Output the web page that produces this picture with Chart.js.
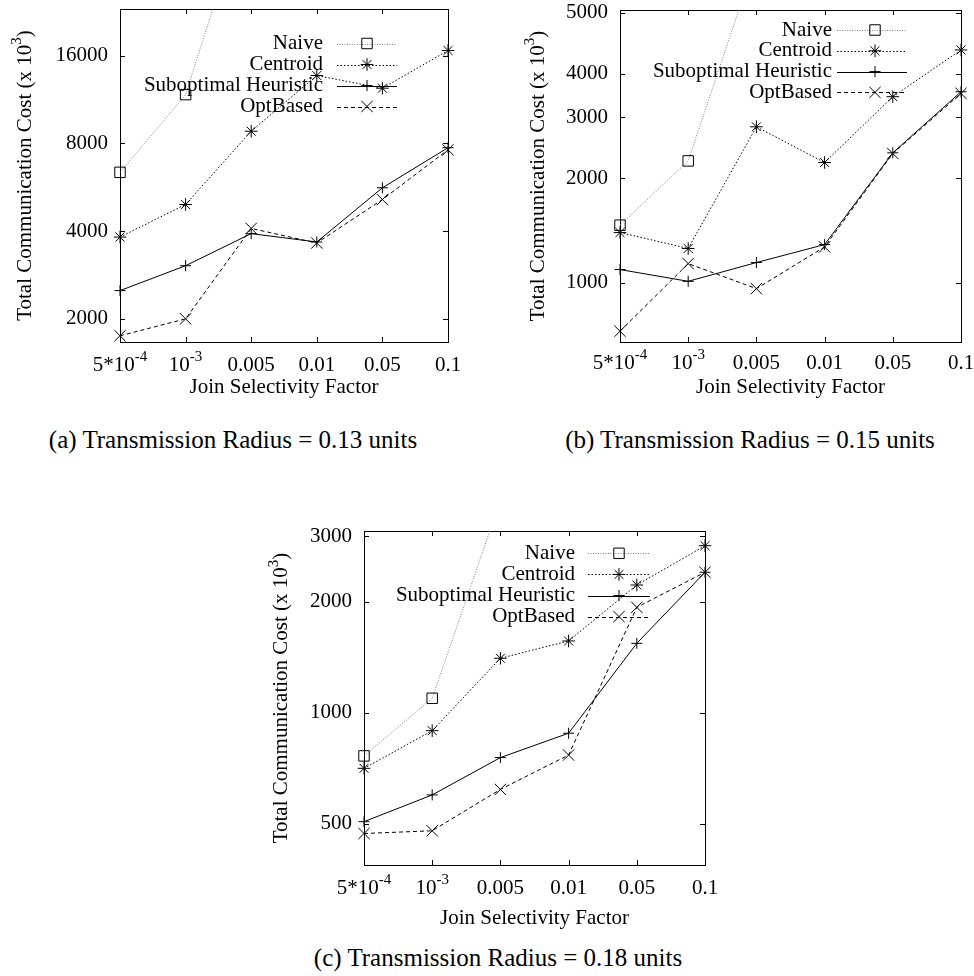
<!DOCTYPE html>
<html>
<head>
<meta charset="utf-8">
<script src="https://cdn.jsdelivr.net/npm/chart.js@4.4.1/dist/chart.umd.min.js"></script>
<style>
	body { margin: 0; background: #fff; width: 974px; height: 976px; position: relative; overflow: hidden; font-family: 'Liberation Serif', 'Times New Roman', serif; }
	canvas { position: absolute; }
	.cap { position: absolute; font-size: 25px; white-space: nowrap; transform: translate(-50%, -50%); color: #000; }
</style>
</head>
<body>
<canvas id="chartA" width="487" height="400" style="left:0px;top:0px"></canvas>
<canvas id="chartB" width="487" height="400" style="left:487px;top:0px"></canvas>
<canvas id="chartC" width="500" height="410" style="left:240px;top:520px"></canvas>
<div class="cap" style="left:233px;top:440px">(a) Transmission Radius = 0.13 units</div>
<div class="cap" style="left:750px;top:440px">(b) Transmission Radius = 0.15 units</div>
<div class="cap" style="left:498px;top:958px">(c) Transmission Radius = 0.18 units</div>
<script>
// categories / tick labels
var categories = ['5*10^-4', '10^-3', '0.005', '0.01', '0.05', '0.1'];
var tickBase = ['5*10', '10', '0.005', '0.01', '0.05', '0.1'];
var tickSup = ['-4', '-3', '', '', '', ''];
var seriesNames = ['Naive', 'Centroid', 'Suboptimal Heuristic', 'OptBased'];

// (a) radius 0.13
var naiveA = [6360, 11750, 60000, null, null, null];
var centroidA = [3815, 4935, 8800, 13660, 12360, 16640];
var suboptA = [2500, 3043, 3920, 3670, 5630, 7725];
var optA = [1750, 2000, 4085, 3640, 5130, 7600];
var yTicksA = [2000, 4000, 8000, 16000];
var yLabelsA = ['2000', '4000', '8000', '16000'];

// (b) radius 0.15
var naiveB = [1467, 2247, 8650, null, null, null];
var centroidB = [1397, 1257, 2817, 2223, 3440, 4690];
var suboptB = [1093, 1011, 1145, 1290, 2371, 3554];
var optB = [726, 1137, 963, 1270, 2360, 3516];
var yTicksB = [1000, 2000, 3000, 4000, 6000];
var yLabelsB = ['1000', '2000', '3000', '4000', '5000'];

// (c) radius 0.18
var naiveC = [764, 1094, 3760, null, null, null];
var centroidC = [707, 894, 1404, 1564, 2217, 2832];
var suboptC = [507, 599, 756, 880, 1541, 2400];
var optC = [471, 479, 620, 768, 1929, 2400];
var yTicksC = [500, 1000, 2000, 3000];
var yLabelsC = ['500', '1000', '2000', '3000'];

var FONT = '"Liberation Serif", "Times New Roman", serif';

var styles = [
	{ color: '#808080', dash: [1, 1.5], point: 'rect', radius: 7.4 },
	{ color: '#000', dash: [1.5, 2], point: 'star', radius: 6.3 },
	{ color: '#000', dash: [], point: 'cross', radius: 5.5 },
	{ color: '#000', dash: [4, 3], point: 'crossRot', radius: 8 }
];

function drawSupText(ctx, base, sup, x, y, size) {
	ctx.font = size + 'px ' + FONT;
	var wb = ctx.measureText(base).width;
	ctx.font = Math.round(size * 0.72) + 'px ' + FONT;
	var ws = sup ? ctx.measureText(sup).width : 0;
	return { wb: wb, ws: ws };
}

var framePlugin = {
	id: 'frame',
	beforeDatasetsDraw: function (chart, args, o) {
		var ctx = chart.ctx, a = chart.chartArea;
		var xs = chart.scales.x, ys = chart.scales.y;
		ctx.save();
		ctx.strokeStyle = '#000';
		ctx.lineWidth = 1;
		ctx.setLineDash([]);
		ctx.strokeRect(Math.round(a.left) + 0.5, Math.round(a.top) + 0.5, Math.round(a.right - a.left), Math.round(a.bottom - a.top));
		ctx.beginPath();
		ys.ticks.forEach(function (t) {
			var py = Math.round(ys.getPixelForValue(t.value)) + 0.5;
			ctx.moveTo(a.left, py); ctx.lineTo(a.left + 5, py);
			ctx.moveTo(a.right, py); ctx.lineTo(a.right - 5, py);
		});
		xs.ticks.forEach(function (t, i) {
			var px = Math.round(xs.getPixelForTick(i)) + 0.5;
			ctx.moveTo(px, a.bottom); ctx.lineTo(px, a.bottom - 5);
			ctx.moveTo(px, a.top); ctx.lineTo(px, a.top + 5);
		});
		ctx.stroke();
		ctx.restore();
	},
	afterDraw: function (chart, args, o) {
		var ctx = chart.ctx, a = chart.chartArea;
		var xs = chart.scales.x;
		ctx.save();
		ctx.fillStyle = '#000';
		ctx.textBaseline = 'middle';
		ctx.textAlign = 'left';

		// x tick labels with superscripts
		xs.ticks.forEach(function (t, i) {
			var px = xs.getPixelForTick(i);
			var m = drawSupText(ctx, tickBase[i], tickSup[i], 0, 0, 21);
			var left = px - (m.wb + m.ws) / 2;
			ctx.font = '21px ' + FONT;
			ctx.fillText(tickBase[i], left, o.xLabelY);
			if (tickSup[i]) {
				ctx.font = '15px ' + FONT;
				ctx.fillText(tickSup[i], left + m.wb, o.xLabelY - 8);
			}
		});

		// x title
		ctx.font = '21px ' + FONT;
		ctx.textAlign = 'center';
		ctx.fillText('Join Selectivity Factor', (a.left + a.right) / 2, o.xTitleY);

		// y title, rotated
		var base = 'Total Communication Cost (x 10', sup = '3', tail = ')';
		ctx.font = '21px ' + FONT;
		var w1 = ctx.measureText(base).width, w3 = ctx.measureText(tail).width;
		ctx.font = '15px ' + FONT;
		var w2 = ctx.measureText(sup).width;
		ctx.translate(o.yTitleX, (a.top + a.bottom) / 2);
		ctx.rotate(-Math.PI / 2);
		ctx.textAlign = 'left';
		var sx = -(w1 + w2 + w3) / 2;
		ctx.font = '21px ' + FONT;
		ctx.fillText(base, sx, 0);
		ctx.font = '15px ' + FONT;
		ctx.fillText(sup, sx + w1, -8);
		ctx.font = '21px ' + FONT;
		ctx.fillText(tail, sx + w1 + w2, 0);
		ctx.setTransform(1, 0, 0, 1, 0, 0);

		// key, gnuplot style: text right aligned, sample to the right
		var L = o.legend;
		chart.data.datasets.forEach(function (ds, i) {
			var y = L.rowTop + i * L.rowGap;
			ctx.fillStyle = '#000';
			ctx.font = '21px ' + FONT;
			ctx.textAlign = 'right';
			ctx.fillText(ds.label, L.textRight, y);
			ctx.strokeStyle = ds.borderColor;
			ctx.lineWidth = 1;
			ctx.setLineDash(ds.borderDash);
			ctx.beginPath();
			ctx.moveTo(L.sampleStart, Math.round(y) + 0.5);
			ctx.lineTo(L.sampleEnd, Math.round(y) + 0.5);
			ctx.stroke();
			ctx.setLineDash([]);
			ctx.strokeStyle = '#000';
			ctx.fillStyle = 'rgba(0,0,0,0)';
			Chart.helpers.drawPoint(ctx, { pointStyle: ds.pointStyle, radius: ds.pointRadius, rotation: 0, borderWidth: 1 }, L.markerX, y);
		});
		ctx.restore();
	}
};

function makeChart(id, series, yMin, yMax, yTicks, yLabels, area, size, extra) {
	var datasets = series.map(function (values, i) {
		var s = styles[i];
		return {
			label: seriesNames[i],
			data: values,
			borderColor: s.color,
			borderWidth: 1,
			borderDash: s.dash,
			pointStyle: s.point,
			pointRadius: s.radius,
			pointBorderColor: '#000',
			pointBackgroundColor: 'rgba(0,0,0,0)',
			pointBorderWidth: 1,
			tension: 0,
			spanGaps: false,
			clip: { left: 14, right: 14, top: 0, bottom: 14 }
		};
	});
	return new Chart(document.getElementById(id), {
		type: 'line',
		data: { labels: categories, datasets: datasets },
		options: {
			responsive: false,
			animation: false,
			devicePixelRatio: 1,
			layout: { padding: { left: 0, top: area.top, right: size.w - area.right, bottom: 0 } },
			plugins: {
				legend: { display: false },
				tooltip: { enabled: false },
				frame: extra
			},
			scales: {
				x: {
					type: 'category',
					offset: false,
					grid: { display: false, drawTicks: false },
					border: { display: false },
					ticks: { display: false },
					afterFit: function (scale) {
						scale.height = size.h - area.bottom;
						scale.paddingLeft = 0;
						scale.paddingRight = 0;
					}
				},
				y: {
					type: 'logarithmic',
					min: yMin,
					max: yMax,
					grid: { display: false, drawTicks: false },
					border: { display: false },
					afterBuildTicks: function (scale) {
						scale.ticks = yTicks.map(function (v) { return { value: v }; });
					},
					ticks: {
						autoSkip: false,
						padding: 12,
						color: '#000',
						font: { family: FONT, size: 21 },
						callback: function (value, index) { return yLabels[index]; }
					},
					afterFit: function (scale) {
						scale.width = area.left;
						scale.paddingTop = 0;
						scale.paddingBottom = 0;
					}
				}
			}
		},
		plugins: [framePlugin]
	});
}

makeChart('chartA', [naiveA, centroidA, suboptA, optA], 1666, 23100, yTicksA, yLabelsA,
	{ left: 120, top: 8, right: 448, bottom: 342 }, { w: 487, h: 400 },
	{ yTitleX: 25, xLabelY: 365, xTitleY: 387,
		legend: { textRight: 323, sampleStart: 337, sampleEnd: 397, markerX: 367, rowTop: 43.5, rowGap: 21 } });

makeChart('chartB', [naiveB, centroidB, suboptB, optB], 676, 6113, yTicksB, yLabelsB,
	{ left: 133, top: 10, right: 474, bottom: 342 }, { w: 487, h: 400 },
	{ yTitleX: 51, xLabelY: 363.5, xTitleY: 387,
		legend: { textRight: 345, sampleStart: 350, sampleEnd: 420, markerX: 388, rowTop: 30, rowGap: 20.8 } });

makeChart('chartC', [naiveC, centroidC, suboptC, optC], 387, 3104, yTicksC, yLabelsC,
	{ left: 124, top: 11, right: 465, bottom: 345 }, { w: 500, h: 410 },
	{ yTitleX: 41.7, xLabelY: 368.3, xTitleY: 398,
		legend: { textRight: 335, sampleStart: 348, sampleEnd: 410, markerX: 379, rowTop: 33.3, rowGap: 21.1 } });
</script>
</body>
</html>
